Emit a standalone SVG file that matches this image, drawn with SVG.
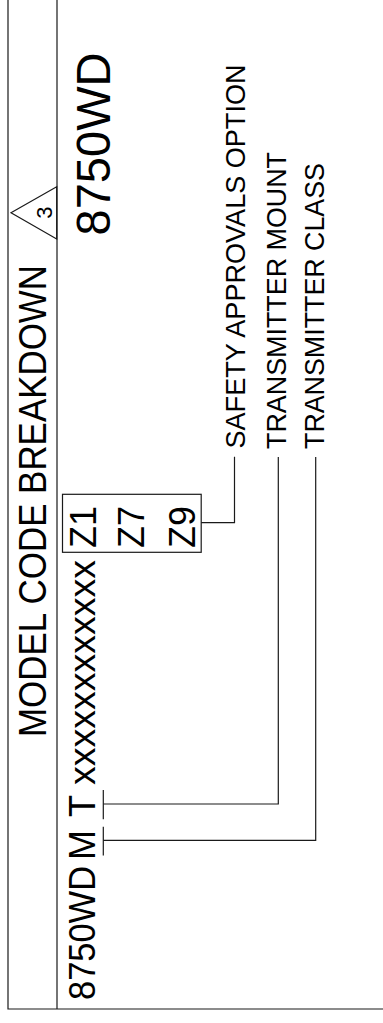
<svg xmlns="http://www.w3.org/2000/svg" width="383" height="1023" viewBox="0 0 383 1023">
<style>
.ln{fill:none;stroke:#1a1a1a;stroke-width:1.2}
.t{font-family:"Liberation Sans",Arial,sans-serif;fill:#000}
</style>
<rect width="383" height="1023" fill="#fff"/>
<g id="frame">
<path class="ln" d="M8,0V1009H383M57,0V1009"/>
</g>
<g id="title">
<text class="t" x="45.5" y="737" font-size="38" textLength="472" lengthAdjust="spacingAndGlyphs" transform="rotate(-90 45.5 737)">MODEL CODE BREAKDOWN</text>
</g>
<g id="revision">
<polygon class="ln" points="11,212.7 56.7,186.7 56.7,239"/>
<text class="t" x="52" y="212.7" font-size="22" text-anchor="middle" transform="rotate(-90 52 212.7)">3</text>
</g>
<g id="model-name">
<text class="t" x="109.5" y="235.5" font-size="48" textLength="183" lengthAdjust="spacingAndGlyphs" transform="rotate(-90 109.5 235.5)">8750WD</text>
</g>
<g id="model-code">
<text class="t" x="95" y="1000" font-size="36" textLength="134" lengthAdjust="spacingAndGlyphs" transform="rotate(-90 95 1000)">8750WD</text>
<text class="t" x="95" y="845" font-size="36" text-anchor="middle" transform="rotate(-90 95 845)">M</text>
<text class="t" x="95" y="806" font-size="36" text-anchor="middle" transform="rotate(-90 95 806)">T</text>
<text class="t" x="95" y="785" font-size="36" textLength="225" lengthAdjust="spacingAndGlyphs" transform="rotate(-90 95 785)">xxxxxxxxxxxx</text>
</g>
<g id="options">
<rect class="ln" x="62.5" y="494.3" width="138.7" height="58"/>
<text class="t" x="95.5" y="548" font-size="36" transform="rotate(-90 95.5 548)">Z1</text>
<text class="t" x="143.5" y="548" font-size="36" transform="rotate(-90 143.5 548)">Z7</text>
<text class="t" x="194.5" y="548" font-size="36" transform="rotate(-90 194.5 548)">Z9</text>
</g>
<g id="label-safety">
<text class="t" x="245" y="448.5" font-size="28" textLength="384" lengthAdjust="spacingAndGlyphs" transform="rotate(-90 245 448.5)">SAFETY APPROVALS OPTION</text>
</g>
<g id="label-mount">
<text class="t" x="286" y="449" font-size="28" textLength="297" lengthAdjust="spacingAndGlyphs" transform="rotate(-90 286 449)">TRANSMITTER MOUNT</text>
</g>
<g id="label-class">
<text class="t" x="324" y="449" font-size="28" textLength="286" lengthAdjust="spacingAndGlyphs" transform="rotate(-90 324 449)">TRANSMITTER CLASS</text>
</g>
<g id="connectors">
<polyline class="ln" points="201.2,522.7 234.5,522.7 234.5,456.7"/>
<polyline class="ln" points="278.3,457 278.3,804 103.3,804"/>
<line class="ln" x1="103.3" y1="790" x2="103.3" y2="819.3"/>
<polyline class="ln" points="315.7,457 315.7,840.3 103.3,840.3"/>
<line class="ln" x1="103.3" y1="826.7" x2="103.3" y2="855.5"/>
</g>
</svg>
